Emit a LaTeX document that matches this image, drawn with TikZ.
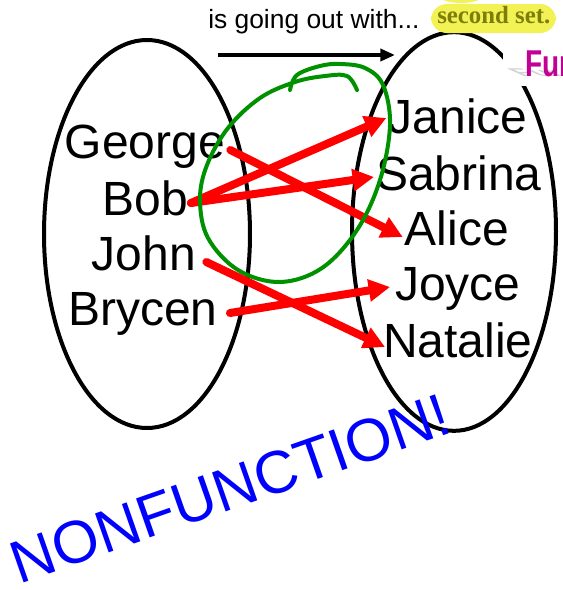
\documentclass[tikz,border=0pt]{standalone}
\usepackage{fontspec}
\setmainfont{Liberation Sans}
\newfontfamily\setnotefont{Liberation Serif}
\usepackage{tikz}
\usetikzlibrary{shapes.geometric, arrows.meta, positioning}
\definecolor{mapred}{RGB}{255,0,0}
\definecolor{loopgreen}{RGB}{0,145,0}
\definecolor{noteyellow}{RGB}{242,242,85}
\definecolor{noteolive}{RGB}{125,125,10}
\definecolor{funmagenta}{RGB}{195,0,150}

\begin{document}
\begin{tikzpicture}[
  x=0.75pt, y=-0.75pt,
  setoval/.style={ellipse, draw=black, line width=3pt, inner sep=0pt},
  person/.style={anchor=base, inner sep=0pt, font=\fontsize{36}{36}\selectfont},
  pairs/.style={-{Triangle[length=16pt, width=16pt]}, line width=6pt, line cap=round, draw=mapred},
  headarr/.style={-{Triangle[length=11pt, width=9pt]}, line width=3pt}
]
\clip (0,0) rectangle (562,590);

% les deux ensembles
\node[setoval, minimum width=154.5pt, minimum height=291pt] (boys) at (147,234) {};
\node[setoval, minimum width=153pt, minimum height=299pt] (girls) at (454,231.5) {};

% titre + fleche
\node[anchor=base west, inner sep=0pt, font=\fontsize{19.8}{20}\selectfont] (goes) at (208,28) {is going out with...};
\coordinate (go-a) at (218,55);
\coordinate (go-b) at (395,55);
\draw[headarr] (go-a) -- (go-b);

% surlignage
\fill[noteyellow, rounded corners=12pt] (431,4) rectangle (556,33);
\fill[noteyellow] (461,-6) ellipse (24 and 9);
\node[anchor=base west, inner sep=0pt, text=noteolive, font=\setnotefont\bfseries\fontsize{18.6}{19}\selectfont] (second) at (437,23) {second set.};

% bout de titre masque
\fill[white] (503,40) rectangle (562,86);
\node[anchor=base west, inner sep=0pt, text=gray!35, xslant=-2.2, yscale=0.3, xscale=0.75, font=\bfseries\fontsize{28}{28}\selectfont] (funshadow) at (522,76) {Fur};
\node[anchor=base west, inner sep=0pt, text=funmagenta, xscale=0.75, font=\bfseries\fontsize{28}{28}\selectfont] (fun) at (525,76) {Fur};

% premier ensemble
\node[person] (george) at (145,158) {George};
\node[person] (bob) at (145,215) {Bob};
\node[person] (john) at (144,270) {John};
\node[person] (brycen) at (143,325) {Brycen};

% second ensemble
\node[person] (janice) at (458,133) {Janice};
\node[person] (sabrina) at (459,190) {Sabrina};
\node[person] (alice) at (457,245) {Alice};
\node[person] (joyce) at (458,300) {Joyce};
\node[person] (natalie) at (458,357) {Natalie};

% couples
\draw[pairs] ([shift={(5,-8)}]george.base east) -- ([shift={(-2,-8)}]alice.base west);
\draw[pairs] ([shift={(3,-12)}]bob.base east) -- ([shift={(-2,-15)}]janice.base west);
\draw[pairs] ([shift={(3,-12)}]bob.base east) -- ([shift={(-2,-13)}]sabrina.base west);
\draw[pairs] ([shift={(10,-8)}]john.base east) -- ([shift={(2,-10)}]natalie.base west);
\draw[pairs] ([shift={(12,-12)}]brycen.base east) -- ([shift={(-5,-13)}]joyce.base west);

% boucle verte
\draw[loopgreen, line width=3pt, line cap=round] plot[smooth, tension=0.6] coordinates {
  (290,90) (297,75) (320,66) (340,64) (365,68) (383,85) (390,125) (380,180)
  (357,230) (322,268) (280,282) (238,270) (208,238) (200,200) (207,165)
  (228,128) (260,98) (295,82) (325,76) (347,76) (357,90)};

% verdict
\node[anchor=base, inner sep=0pt, rotate=19.3, text=blue, font=\fontsize{45}{45}\selectfont] (verdict) at (237,508) {NONFUNCTION!};
\end{tikzpicture}
\end{document}
